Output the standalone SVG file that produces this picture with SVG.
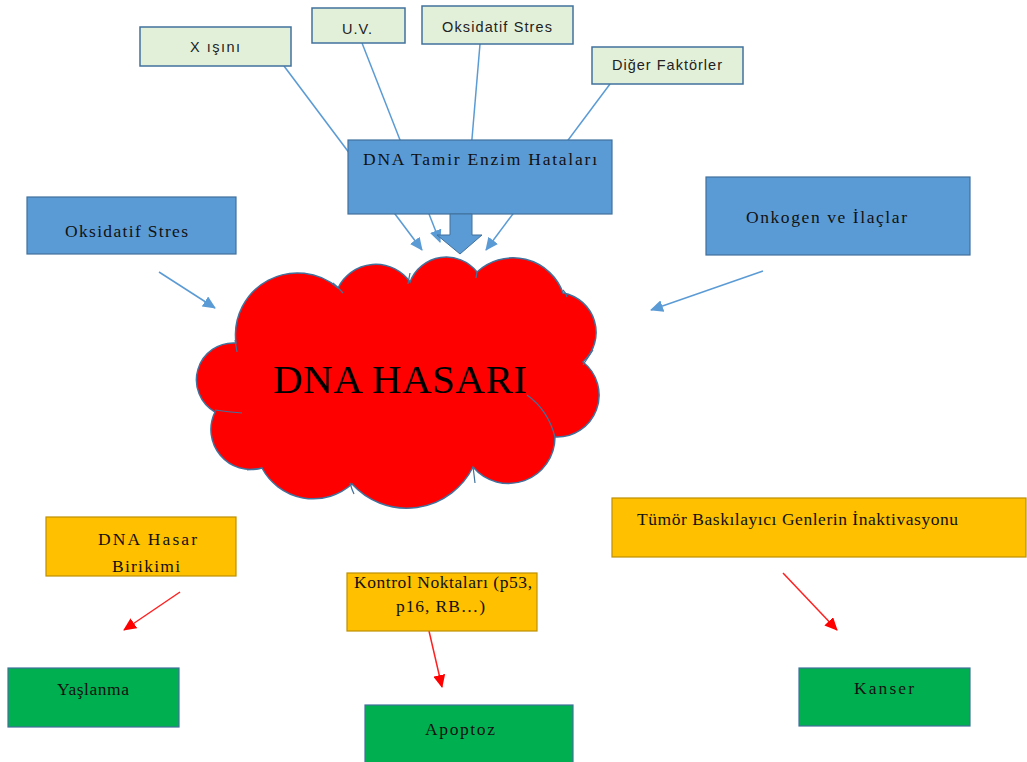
<svg xmlns="http://www.w3.org/2000/svg" width="1027" height="762" viewBox="0 0 1027 762">
<style>
.lg{fill:#E2F0D9;stroke:#41719C;stroke-width:1.5}
.bl{fill:#5B9BD5;stroke:#41719C;stroke-width:1.2}
.or{fill:#FFC000;stroke:#BF9000;stroke-width:1.2}
.gr{fill:#00B050;stroke:#41719C;stroke-width:1.2}
.sans{font-family:"Liberation Sans","Open Sans",sans-serif;font-size:14.5px;fill:#222}
.ser{font-family:"Liberation Serif","Times New Roman",serif;font-size:17.5px;fill:#111}
.bc{stroke:#5B9BD5;stroke-width:1.5;fill:none;marker-end:url(#ab)}
.rc{stroke:#FF2020;stroke-width:1.5;fill:none;marker-end:url(#ar)}
.inner{fill:none;stroke:#41719C;stroke-width:1.2}
</style>
<defs>
<marker id="ab" markerUnits="userSpaceOnUse" markerWidth="14" markerHeight="12" refX="12" refY="6" orient="auto"><path d="M0,0 L13,6 L0,12 Z" fill="#5B9BD5"/></marker>
<marker id="ar" markerUnits="userSpaceOnUse" markerWidth="14" markerHeight="12" refX="12" refY="6" orient="auto"><path d="M0,0 L13,6 L0,12 Z" fill="#FF0000"/></marker>
</defs>
<rect width="1027" height="762" fill="#fff"/>
<g id="connectors">
<line class="bc" x1="284" y1="66" x2="422" y2="250"/>
<line class="bc" x1="362" y1="43" x2="440" y2="242"/>
<line class="bc" x1="480" y1="44" x2="463" y2="245"/>
<line class="bc" x1="610" y1="84" x2="486" y2="250"/>
<line class="bc" x1="159" y1="272" x2="215" y2="308"/>
<line class="bc" x1="763" y1="271" x2="651" y2="310"/>
<line class="rc" x1="180" y1="592" x2="124" y2="630"/>
<line class="rc" x1="429" y1="631" x2="442" y2="687"/>
<line class="rc" x1="783" y1="573" x2="837" y2="630"/>
</g>
<g id="n-xisini"><rect class="lg" x="140" y="27" width="151" height="39"/><text class="sans" x="215" y="52" text-anchor="middle" textLength="50">X ışını</text></g>
<g id="n-uv"><rect class="lg" x="312" y="8" width="93" height="35"/><text class="sans" x="357" y="34" text-anchor="middle" textLength="30">U.V.</text></g>
<g id="n-oks-top"><rect class="lg" x="422" y="6" width="151" height="38"/><text class="sans" x="497" y="32" text-anchor="middle" textLength="110">Oksidatif Stres</text></g>
<g id="n-diger"><rect class="lg" x="592" y="47" width="151" height="37"/><text class="sans" x="667" y="70" text-anchor="middle" textLength="110">Diğer Faktörler</text></g>
<g id="n-oks-left"><rect class="bl" x="27" y="197" width="209" height="57"/><text class="ser" x="126.5" y="237" text-anchor="middle" textLength="123">Oksidatif Stres</text></g>
<g id="n-onkogen"><rect class="bl" x="706" y="177" width="264" height="78"/><text class="ser" x="826.5" y="223" text-anchor="middle" textLength="161">Onkogen ve İlaçlar</text></g>
<g id="n-cloud">
<path d="M236,343 A62,62 0 0 1 338,288 A42,42 0 0 1 410,282 A39,39 0 0 1 477,272 A53,53 0 0 1 563,293 A40,40 0 0 1 583,362 A42,42 0 0 1 555,437 A46.5,46.5 0 0 1 473,467 A74,74 0 0 1 352,484 A58,58 0 0 1 262,468 A40,40 0 0 1 215,412 A37,37 0 0 1 236,343 Z" fill="#FF0000" stroke="#41719C" stroke-width="1.5"/>
<path class="inner" d="M235,340 Q236,346 237,352 M333,283 Q338,287 343,293 M410,273 Q409,278 408,284 M477,272 L476,278 M563,290 Q566,293 567,297 M583,365 Q587,359 593,350 M527,395 Q548,410 555,437 M473,467 Q474,474 475,483 M350,483 Q352,490 354,494 M262,468 Q255,469 247,470 M215,410 Q228,412 242,413"/>
<text x="400" y="393" text-anchor="middle" font-family="Liberation Serif, Times New Roman, serif" font-size="41" fill="#000" textLength="254">DNA HASARI</text>
</g>
<g id="n-tamir">
<rect class="bl" x="348" y="140" width="264" height="74"/>
<text class="ser" x="363" y="165" textLength="234">DNA Tamir Enzim Hataları</text>
<path d="M450,214 L472,214 L472,235 L482,235 L460,254 L437,235 L450,235 Z" fill="#5B9BD5" stroke="#41719C" stroke-width="1"/>
</g>
<g id="n-birikim"><rect class="or" x="46" y="517" width="190" height="59"/><text class="ser" x="147.5" y="545" text-anchor="middle" textLength="99">DNA Hasar</text><text class="ser" x="146" y="572" text-anchor="middle" textLength="68">Birikimi</text></g>
<g id="n-kontrol"><rect class="or" x="347" y="573" width="190" height="58"/><text class="ser" x="443" y="588" text-anchor="middle" textLength="178">Kontrol Noktaları (p53,</text><text class="ser" x="440.5" y="612" text-anchor="middle" textLength="89">p16, RB…)</text></g>
<g id="n-tumor"><rect class="or" x="612" y="498" width="414" height="59"/><text class="ser" x="637" y="525" textLength="321">Tümör Baskılayıcı Genlerin İnaktivasyonu</text></g>
<g id="n-yaslanma"><rect class="gr" x="8" y="668" width="171" height="59"/><text class="ser" x="93" y="695" text-anchor="middle" textLength="72">Yaşlanma</text></g>
<g id="n-apoptoz"><rect class="gr" x="365" y="705" width="208" height="60"/><text class="ser" x="460" y="735" text-anchor="middle" textLength="70">Apoptoz</text></g>
<g id="n-kanser"><rect class="gr" x="799" y="668" width="171" height="58"/><text class="ser" x="884" y="694" text-anchor="middle" textLength="60">Kanser</text></g>
</svg>
